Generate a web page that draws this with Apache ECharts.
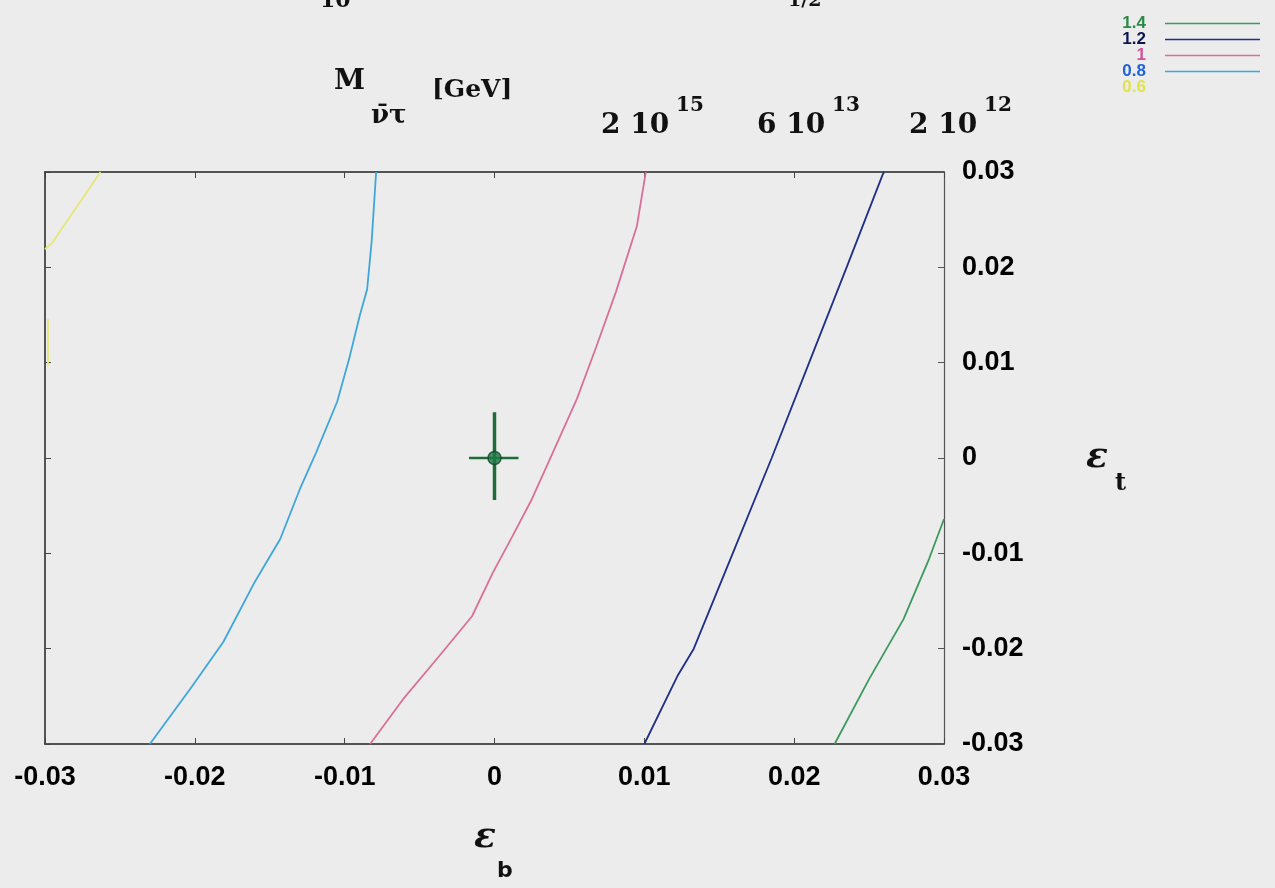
<!DOCTYPE html>
<html>
<head>
<meta charset="utf-8">
<script src="https://cdn.jsdelivr.net/npm/echarts@6/dist/echarts.min.js"></script>
<style>
  html, body { margin: 0; padding: 0; background: #ececec; }
  #container { width: 1275px; height: 888px; }
</style>
</head>
<body>
<div id="container"></div>
<script>
// contour levels (legend order)
var levels = ['1.4', '1.2', '1', '0.8', '0.6'];
var levelColors = ['#3c9a5c', '#1f2f86', '#d8709a', '#3fa6dc', '#e6e67a'];
var labelColors = ['#2c8a44', '#0c1650', '#d0509a', '#1e64d8', '#e2e24a'];

// eps_b, eps_t points
var c14 = [[0.0227, -0.030], [0.0250, -0.0232], [0.0273, -0.0169], [0.0290, -0.0106], [0.0300, -0.0064]];
var c12 = [[0.0100, -0.030], [0.0122, -0.0229], [0.0133, -0.020], [0.0159, -0.010], [0.0185, 0.000],
           [0.0210, 0.010], [0.0235, 0.020], [0.0259, 0.0297], [0.0260, 0.030]];
var c10 = [[-0.0083, -0.030], [-0.0061, -0.0253], [-0.0037, -0.0208], [-0.0015, -0.0166], [-0.0001, -0.0120],
           [0.0012, -0.0082], [0.0025, -0.0043], [0.0039, 0.0006], [0.0055, 0.0062], [0.0068, 0.0117],
           [0.0081, 0.0174], [0.0095, 0.0243], [0.0101, 0.030]];
var c08 = [[-0.0230, -0.030], [-0.0203, -0.0242], [-0.0181, -0.0193], [-0.0160, -0.0130], [-0.0143, -0.0085],
           [-0.0130, -0.0033], [-0.0119, 0.0006], [-0.0105, 0.0059], [-0.0097, 0.0104], [-0.0090, 0.0149],
           [-0.0085, 0.0177], [-0.0082, 0.0227], [-0.0079, 0.030]];
var c06 = [[-0.0300, 0.0219], [-0.0295, 0.0226], [-0.0263, 0.030], '-', [-0.0298, 0.0146], [-0.0298, 0.0097]];

// best fit point with error bars
var fitPoint = [0, 0];
var fitErrX = [-0.0017, 0.0016];
var fitErrY = [-0.0044, 0.0048];

// top mass labels
var massLabels = [['2 10', '15'], ['6 10', '13'], ['2 10', '12']];

var dom = document.getElementById('container');
var myChart = echarts.init(dom);

var fmt = function (v) { return String(+v.toFixed(2)); };
var tickFont = { color: '#000', fontSize: 27, fontWeight: 'bold', fontFamily: 'Liberation Sans' };
var serif = '"DejaVu Serif"';

var curves = [c14, c12, c10, c08, c06];
var series = [];
for (var i = 0; i < levels.length; i++) {
    series.push({
        name: levels[i],
        type: 'line',
        data: curves[i],
        showSymbol: false,
        symbol: 'none',
        connectNulls: false,
        lineStyle: { color: levelColors[i], width: 1.8 },
        itemStyle: { color: levelColors[i] },
        z: 3
    });
}

// error bars
series.push({
    type: 'line', symbol: 'none',
    data: [[fitPoint[0] + fitErrX[0], fitPoint[1]], [fitPoint[0] + fitErrX[1], fitPoint[1]]],
    lineStyle: { color: '#1f6b3c', width: 2.5 }, z: 5
});
series.push({
    type: 'line', symbol: 'none',
    data: [[fitPoint[0], fitPoint[1] + fitErrY[0]], [fitPoint[0], fitPoint[1] + fitErrY[1]]],
    lineStyle: { color: '#1f6b3c', width: 3.5 }, z: 5
});
series.push({
    type: 'scatter',
    data: [fitPoint],
    symbolSize: 13,
    itemStyle: { color: '#1f7a45', borderColor: '#0e4a26', borderWidth: 1.5 },
    z: 6
});

var legendData = [];
for (var k = 0; k < levels.length; k++) {
    legendData.push({
        name: levels[k],
        icon: k === 4 ? 'none' : 'rect',
        textStyle: { color: labelColors[k] }
    });
}

var option = {
    backgroundColor: '#ececec',
    animation: false,
    grid: { left: 45, right: 331, top: 172, bottom: 144 },
    legend: {
        data: legendData,
        orient: 'vertical',
        right: 10,
        top: 10,
        align: 'right',
        itemWidth: 95,
        itemHeight: 1.5,
        itemGap: -1,
        textStyle: {
            fontSize: 17, fontWeight: 'bold', fontFamily: 'Liberation Sans', lineHeight: 15,
            width: 34, align: 'right', padding: [0, 14, 0, 0]
        }
    },
    xAxis: [{
        type: 'value', min: -0.03, max: 0.03, interval: 0.01, position: 'bottom',
        axisLine: { onZero: false, lineStyle: { color: '#222', width: 1.5 } },
        axisTick: { inside: true, length: 6, lineStyle: { color: '#444' } },
        axisLabel: Object.assign({ margin: 20, formatter: fmt }, tickFont),
        splitLine: { show: false }
    }, {
        type: 'value', min: -0.03, max: 0.03, interval: 0.01, position: 'top',
        axisLine: { show: true, onZero: false, lineStyle: { color: '#222', width: 1.5 } },
        axisTick: { inside: true, length: 6, lineStyle: { color: '#444' } },
        axisLabel: { show: false },
        splitLine: { show: false }
    }],
    yAxis: [{
        type: 'value', min: -0.03, max: 0.03, interval: 0.01, position: 'right',
        axisLine: { show: true, onZero: false, lineStyle: { color: '#555', width: 1.2 } },
        axisTick: { inside: true, length: 6, lineStyle: { color: '#555' } },
        axisLabel: Object.assign({ margin: 18, formatter: fmt }, tickFont),
        splitLine: { show: false }
    }, {
        type: 'value', min: -0.03, max: 0.03, interval: 0.01, position: 'left',
        axisLine: { show: true, onZero: false, lineStyle: { color: '#222', width: 1.5 } },
        axisTick: { inside: true, length: 6, lineStyle: { color: '#444' } },
        axisLabel: { show: false },
        splitLine: { show: false }
    }],
    series: series,
    graphic: [
        // cut-off title remains
        { type: 'text', left: 320, top: -10, style: { text: '10', font: 'bold 22px ' + serif, fill: '#111' } },
        { type: 'text', left: 788, top: -8, style: { text: '1/2', font: 'bold 19px ' + serif, fill: '#111' } },
        // top axis title
        { type: 'text', left: 334, top: 68, style: { text: 'M', font: 'bold 28px ' + serif, fill: '#111' } },
        { type: 'text', left: 371, top: 103, style: { text: 'ν\u0304τ', font: 'bold 26px ' + serif, fill: '#111' } },
        { type: 'text', left: 432, top: 78, style: { text: '[GeV]', font: 'bold 25px ' + serif, fill: '#111' } },
        // mass labels
        { type: 'text', left: 601, top: 112, style: { text: massLabels[0][0], font: 'bold 28px ' + serif, fill: '#111' } },
        { type: 'text', left: 676, top: 96, style: { text: massLabels[0][1], font: 'bold 20px ' + serif, fill: '#111' } },
        { type: 'text', left: 757, top: 112, style: { text: massLabels[1][0], font: 'bold 28px ' + serif, fill: '#111' } },
        { type: 'text', left: 832, top: 96, style: { text: massLabels[1][1], font: 'bold 20px ' + serif, fill: '#111' } },
        { type: 'text', left: 909, top: 112, style: { text: massLabels[2][0], font: 'bold 28px ' + serif, fill: '#111' } },
        { type: 'text', left: 984, top: 96, style: { text: massLabels[2][1], font: 'bold 20px ' + serif, fill: '#111' } },
        // axis names
        { type: 'text', left: 474, top: 820, style: { text: 'ε', font: 'italic bold 36px ' + serif, fill: '#111' } },
        { type: 'text', left: 497, top: 860, style: { text: 'b', font: 'bold 22px "DejaVu Sans"', fill: '#111' } },
        { type: 'text', left: 1086, top: 440, style: { text: 'ε', font: 'italic bold 36px ' + serif, fill: '#111' } },
        { type: 'text', left: 1115, top: 472, style: { text: 't', font: 'bold 24px ' + serif, fill: '#111' } }
    ]
};

myChart.setOption(option);
</script>
</body>
</html>
